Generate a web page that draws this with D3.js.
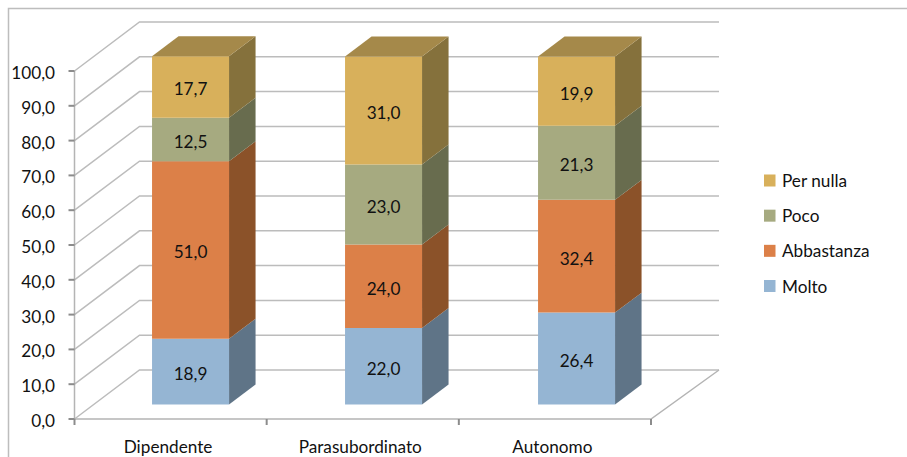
<!DOCTYPE html>
<html>
<head>
<meta charset="utf-8">
<script src="https://cdnjs.cloudflare.com/ajax/libs/d3/7.8.5/d3.min.js"></script>
<style>
html,body{margin:0;padding:0;background:#fff;}
svg{display:block;}
text{font-family:Lato,"Open Sans",sans-serif;fill:#111;}
</style>
</head>
<body>
<svg id="chart" width="907" height="457"></svg>
<script>
const categories = ["Dipendente", "Parasubordinato", "Autonomo"];
const seriesNames = ["Molto", "Abbastanza", "Poco", "Per nulla"];
const molto = [18.9, 22.0, 26.4];
const abbastanza = [51.0, 24.0, 32.4];
const poco = [12.5, 23.0, 21.3];
const perNulla = [17.7, 31.0, 19.9];
const tickValues = [0, 10, 20, 30, 40, 50, 60, 70, 80, 90, 100];
const frontColors = ["#95b5d3", "#dc8048", "#a6aa80", "#d8b05b"];
const sideColors = ["#5f7487", "#8b5229", "#686c4e", "#85713c"];
const topColor = "#a5894a";

const seriesValues = [molto, abbastanza, poco, perNulla];
const fmt = v => v.toFixed(1).replace(".", ",");
const svg = d3.select("#chart");
const fontSize = 17.2;

// Oblique projection: value goes up, depth runs from the front floor edge to the back wall.
const yScale = d3.scaleLinear().domain([0, 100]).range([419, 71]);
const xScale = d3.scaleBand().domain(categories).range([74.5, 651]);
const barScale = d3.scaleBand().domain(categories).range([75, 654]);
const depthX = d3.scaleLinear().domain([0, 1]).range([0, 65]);
const depthY = d3.scaleLinear().domain([0, 1]).range([0, -49]);
const pt = (x, v, z) => [x + depthX(z), yScale(v) + depthY(z)];
const line = d3.line();
const poly = pts => line(pts) + "Z";
const [axisLeft, axisRight] = xScale.range();

// Frame around the chart area
svg.append("path").attr("d", "M8.5,457V8.5H907").attr("fill", "none")
  .attr("stroke", "#bdbdbd").attr("stroke-width", 1.5);

// Gridlines on the back and side walls
const grid = svg.append("g").attr("fill", "none").attr("stroke", "#bcbcbc").attr("stroke-width", 1.5);
tickValues.forEach(t => {
  grid.append("path").attr("d", line([
    pt(axisLeft, t, 0),
    pt(axisLeft, t, 1),
    pt(axisRight + 3, t, 1)
  ]));
});

// Left axis line, front edge of the floor and right floor edge
svg.append("path").attr("fill", "none").attr("stroke", "#b4b4b4").attr("stroke-width", 1.5)
  .attr("d", line([
    pt(axisLeft, 100, 0), pt(axisLeft, 0, 0), pt(axisRight, 0, 0), pt(axisRight + 3, 0, 1)
  ]));

// Tick marks on both axes
const ticks = svg.append("g").attr("stroke", "#8c8c8c").attr("stroke-width", 2);
tickValues.forEach(t => {
  ticks.append("line").attr("x1", axisLeft - 6).attr("x2", axisLeft).attr("y1", yScale(t)).attr("y2", yScale(t));
});
[...categories.map(c => xScale(c)), axisRight].forEach(x => {
  ticks.append("line").attr("x1", x).attr("x2", x).attr("y1", yScale(0)).attr("y2", 425);
});

// Value axis labels
svg.append("g").selectAll("text").data(tickValues).join("text")
  .attr("x", 55).attr("y", t => yScale(t) + 8)
  .attr("text-anchor", "end").attr("font-size", fontSize)
  .text(fmt);

// Category labels
svg.append("g").selectAll("text").data(categories).join("text")
  .attr("x", c => xScale(c) + xScale.bandwidth() / 2 - 2.5)
  .attr("y", 452.5).attr("text-anchor", "middle").attr("font-size", fontSize)
  .text(c => c);

// Stacked prisms
const zFront = 0.296, zBack = 0.704;
const barInset = 57.8, barW = 77;
categories.forEach((c, ci) => {
  const x0 = barScale(c) + barInset;
  const x1 = x0 + barW;
  let base = 0;
  seriesValues.forEach((vals, si) => {
    const top = base + vals[ci];
    svg.append("path").attr("fill", sideColors[si]).attr("d", poly([
      pt(x1, base, zFront), pt(x1, base, zBack), pt(x1, top, zBack), pt(x1, top, zFront)
    ]));
    svg.append("path").attr("fill", frontColors[si]).attr("d", poly([
      pt(x0, base, zFront), pt(x1, base, zFront), pt(x1, top, zFront), pt(x0, top, zFront)
    ]));
    const mid = pt((x0 + x1) / 2, (base + top) / 2, zFront);
    svg.append("text").attr("x", mid[0]).attr("y", mid[1] + 8.5)
      .attr("text-anchor", "middle").attr("font-size", fontSize)
      .text(fmt(vals[ci]));
    base = top;
  });
  svg.append("path").attr("fill", topColor).attr("d", poly([
    pt(x0, base, zFront), pt(x1, base, zFront), pt(x1, base, zBack), pt(x0, base, zBack)
  ]));
});

// Legend, listed with the top of the stack first
const legendY = d3.scalePoint().domain([...seriesNames].reverse()).range([180.5, 286]);
const legend = svg.append("g").selectAll("g").data(seriesNames).join("g")
  .attr("transform", d => `translate(764,${legendY(d)})`);
legend.append("rect").attr("x", 0).attr("y", -6).attr("width", 11.5).attr("height", 12)
  .attr("fill", (d, i) => frontColors[i]);
legend.append("text").attr("x", 18).attr("y", 6.5).attr("font-size", fontSize).text(d => d);
</script>
</body>
</html>
